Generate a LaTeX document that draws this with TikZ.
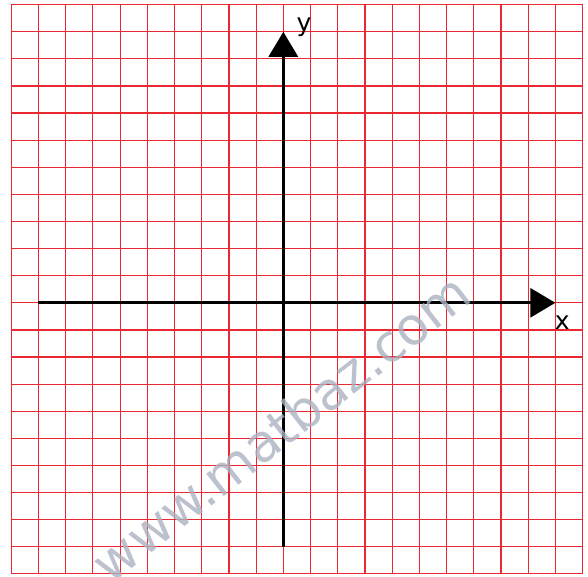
\documentclass[tikz,border=0pt]{standalone}
\usepackage{fontspec}
\setmainfont{DejaVu Sans}
\usetikzlibrary{arrows.meta}
\definecolor{wmgray}{RGB}{170,178,192}
\definecolor{gridred}{RGB}{235,40,50}
\begin{document}
\begin{tikzpicture}[x=13.6pt,y=13.55pt,
  gridline/.style={draw=gridred, line width=0.6pt},
  axisline/.style={line width=1.5pt, -{Triangle[length=12.5pt,width=14.5pt]}},
  axislabel/.style={font=\fontsize{12.5pt}{14pt}\selectfont, inner sep=0pt, anchor=base},
  wmark/.style={font=\fontsize{26pt}{30pt}\selectfont, text=wmgray, opacity=0.8, rotate=38}]
\useasboundingbox (-0.415,-0.08) rectangle (21.2,21.173);
\draw[gridline] (0,0) grid[xstep=1,ystep=1] (21,21);
\coordinate (xs) at (1,10);
\coordinate (xe) at (20,10);
\coordinate (ys) at (10,1);
\coordinate (ye) at (10,20);
\draw[axisline] (xs) -- (xe);
\draw[axisline] (ys) -- (ye);
\node[axislabel] (xl) at (20.25,9.0) {x};
\node[axislabel] (yl) at (10.76,20.0) {y};
\node[wmark] (wm) at (9.9,5.4) {www.matbaz.com};
\end{tikzpicture}
\end{document}
